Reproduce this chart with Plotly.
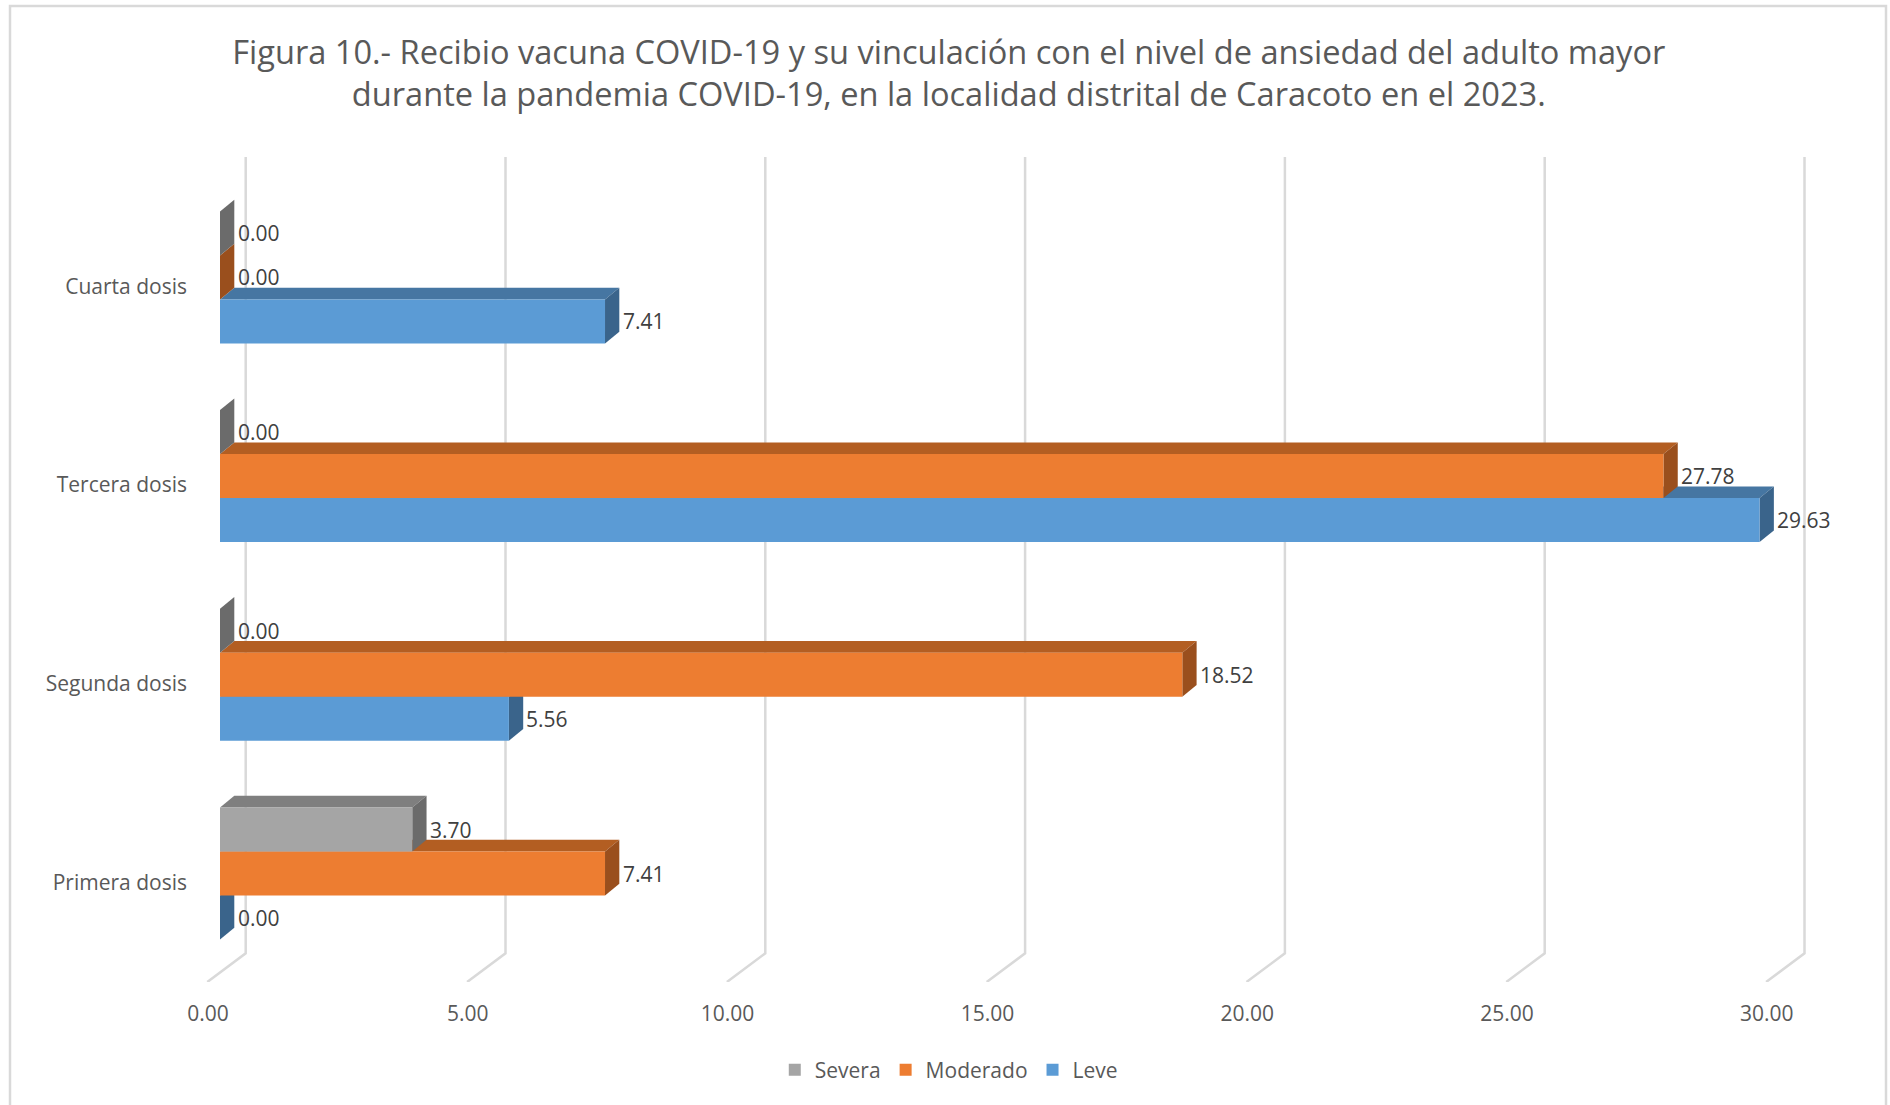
import plotly.graph_objects as go

# ---------------- data ----------------
categories = ["Primera dosis", "Segunda dosis", "Tercera dosis", "Cuarta dosis"]
series_names = ["Leve", "Moderado", "Severa"]
leve = [0.00, 5.56, 29.63, 7.41]
moderado = [7.41, 18.52, 27.78, 0.00]
severa = [3.70, 0.00, 0.00, 0.00]
x_ticks = [0, 5, 10, 15, 20, 25, 30]
x_tick_labels = ["0.00", "5.00", "10.00", "15.00", "20.00", "25.00", "30.00"]

title_text = ("Figura 10.- Recibio vacuna COVID-19 y su vinculación con el nivel de ansiedad del adulto mayor"
              "<br>durante la pandemia COVID-19, en la localidad distrital de Caracoto en el 2023.")

# ---------------- styling / geometry ----------------
W, H = 1890, 1105
ML, MR, MT, MB = 200, 60, 157, 123
PLOT_W = W - ML - MR
PLOT_H = H - MT - MB
FRONT_ZERO_PX = 220.0      # pixel of value 0 on the front plane
PXU = 51.96                # pixels per x unit
GROUP0_PX = 873.5          # pixel of category position 0 (center of group)
PYU = 198.7                # pixels per category step

x_range = [(ML - FRONT_ZERO_PX) / PXU, (ML + PLOT_W - FRONT_ZERO_PX) / PXU]
y_range = [(GROUP0_PX - (MT + PLOT_H)) / PYU, (GROUP0_PX - MT) / PYU]

bar_w = 44.0 / PYU
ddx = 14.3 / PXU
ddy = 11.7 / PYU

front_colors = {"Leve": "#5B9BD5", "Moderado": "#ED7D31", "Severa": "#A5A5A5"}
top_colors = {"Leve": "#4676A2", "Moderado": "#B35E22", "Severa": "#7F7F7F"}
side_colors = {"Leve": "#3A648B", "Moderado": "#9A4F1D", "Severa": "#6B6B6B"}
values = {"Leve": leve, "Moderado": moderado, "Severa": severa}
# offset (in bar widths) of the bottom edge of each series relative to group center
offsets = {"Leve": -1.5, "Moderado": -0.5, "Severa": 0.5}

FONT = "Open Sans, Noto Sans, sans-serif"
GRID = "#D9D9D9"

positions = list(range(len(categories)))

fig = go.Figure()
shapes = []

# back-wall gridlines with floor diagonals
back_dx = 25.7 / PXU
front_dx = -12.7 / PXU
floor_back_y = (GROUP0_PX - 953.3) / PYU
for t in x_ticks:
    path = (f"M {t + back_dx},{y_range[1]} L {t + back_dx},{floor_back_y} "
            f"L {t + front_dx},{y_range[0]}")
    shapes.append(dict(type="path", path=path, xref="x", yref="y", layer="below",
                       line=dict(color=GRID, width=2.5)))

annotations = []
for name in series_names:
    vals = values[name]
    off = offsets[name] * bar_w
    fig.add_trace(go.Bar(
        name=name, orientation="h", x=vals, y=positions,
        width=bar_w, offset=off,
        marker=dict(color=front_colors[name], line=dict(width=0)),
        hoverinfo="x+name",
    ))
    for p, v in zip(positions, vals):
        bot = p + off
        top = bot + bar_w
        if v > 0:
            shapes.append(dict(
                type="path", xref="x", yref="y", layer="below",
                path=f"M 0,{top} L {v},{top} L {v + ddx},{top + ddy} L {ddx},{top + ddy} Z",
                fillcolor=top_colors[name], line=dict(width=0)))
        shapes.append(dict(
            type="path", xref="x", yref="y", layer="below",
            path=f"M {v},{bot} L {v},{top} L {v + ddx},{top + ddy} L {v + ddx},{bot + ddy} Z",
            fillcolor=side_colors[name], line=dict(width=0)))
        annotations.append(dict(
            x=v, y=(bot + top) / 2, xref="x", yref="y", text=f"{v:.2f}",
            showarrow=False, xanchor="left", yanchor="middle", xshift=15.5,
            font=dict(family=FONT, size=21, color="#404040")))

# chart outer border (left, top, right)
def px_to_paper_x(px):
    return (px - ML) / PLOT_W

def py_to_paper_y(py):
    return (MT + PLOT_H - py) / PLOT_H

bx0, bx1 = px_to_paper_x(10), px_to_paper_x(1886)
by0, by1 = py_to_paper_y(H + 5), py_to_paper_y(6)
shapes.append(dict(type="path", xref="paper", yref="paper", layer="below",
                   path=f"M {bx0},{by0} L {bx0},{by1} L {bx1},{by1} L {bx1},{by0}",
                   line=dict(color=GRID, width=2.5)))

fig.update_layout(
    width=W, height=H,
    margin=dict(l=ML, r=MR, t=MT, b=MB),
    paper_bgcolor="white", plot_bgcolor="white",
    barmode="overlay",
    title=dict(text=title_text, x=0.502, xanchor="center", xref="container",
               y=1 - 63.5 / H, yanchor="middle", yref="container",
               font=dict(family=FONT, size=32.6, color="#595959")),
    xaxis=dict(range=x_range, tickvals=x_ticks, ticktext=x_tick_labels,
               showgrid=False, zeroline=False, showline=False, ticks="",
               ticklabelshift=-12, ticklabelstandoff=17,
               tickfont=dict(family=FONT, size=21, color="#595959"), fixedrange=True),
    yaxis=dict(range=y_range, tickvals=positions, ticktext=categories,
               showgrid=False, zeroline=False, showline=False, ticks="",
               ticklabelshift=9, ticklabelstandoff=12,
               tickfont=dict(family=FONT, size=21, color="#595959"), fixedrange=True),
    legend=dict(orientation="h", traceorder="reversed",
                xref="container", x=0.502, xanchor="center",
                yref="container", y=1 - 1070 / H, yanchor="middle",
                font=dict(family=FONT, size=21, color="#595959"),
                itemwidth=30),
    shapes=shapes,
    annotations=annotations,
    showlegend=True,
)

fig.write_html(
    "out.html",
    config={"displayModeBar": False},
    post_script="document.body.style.margin='0px';document.body.style.overflow='hidden';",
)
